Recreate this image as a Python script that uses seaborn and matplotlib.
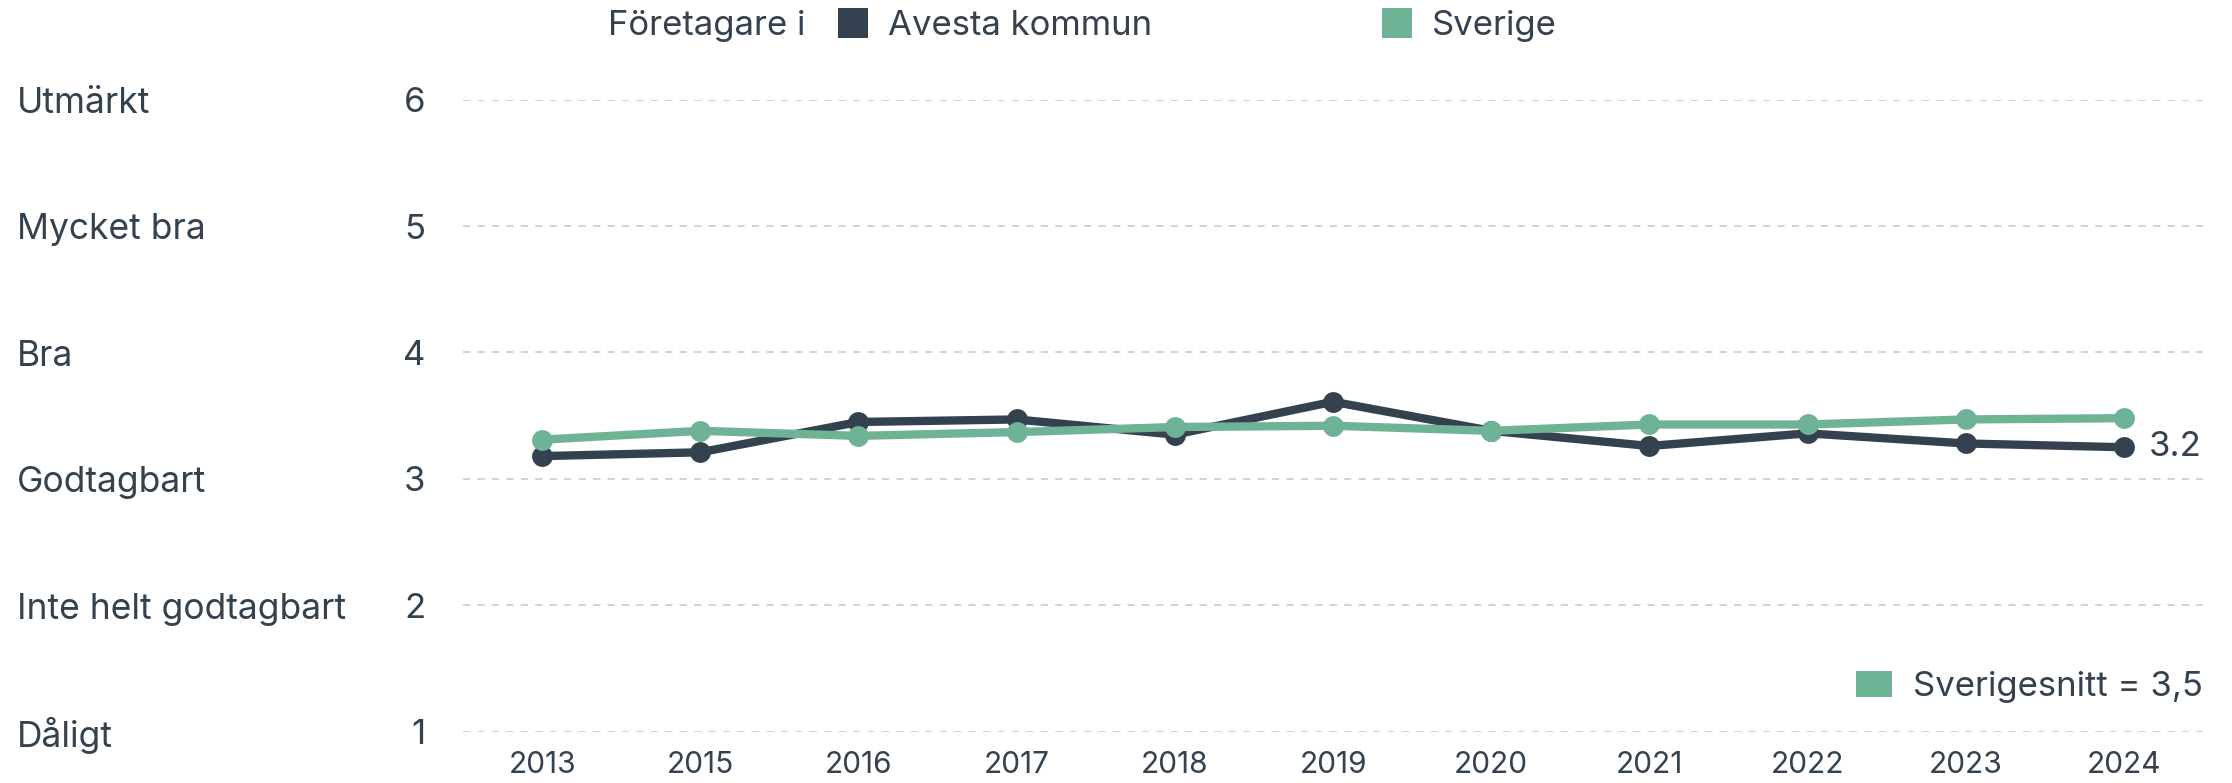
import numpy as np
import pandas as pd
import seaborn as sns
import matplotlib.pyplot as plt
from matplotlib.lines import Line2D
from matplotlib.patches import Patch
from matplotlib.transforms import blended_transform_factory

# Data
years = ['2013', '2015', '2016', '2017', '2018', '2019', '2020', '2021', '2022', '2023', '2024']
avesta = [3.18, 3.21, 3.45, 3.47, 3.35, 3.61, 3.38, 3.26, 3.36, 3.28, 3.25]
sverige = [3.31, 3.38, 3.34, 3.37, 3.41, 3.42, 3.38, 3.43, 3.43, 3.47, 3.48]
series_names = ['Avesta kommun', 'Sverige']
grade_ticks = [1, 2, 3, 4, 5, 6]
grade_labels = ['Dåligt', 'Inte helt godtagbart', 'Godtagbart', 'Bra', 'Mycket bra', 'Utmärkt']
end_label = '3.2'
avg_label = 'Sverigesnitt = 3,5'

DARK = '#34414f'
GREEN = '#6fb396'
GRID = '#cfcfcf'

df = pd.concat([
    pd.DataFrame({'År': years, 'Värde': avesta, 'Serie': series_names[0]}),
    pd.DataFrame({'År': years, 'Värde': sverige, 'Serie': series_names[1]}),
])

sns.set_style('white')
plt.rcParams['font.family'] = ['Inter', 'DejaVu Sans']
plt.rcParams['text.color'] = DARK

fig = plt.figure(figsize=(22.32, 7.83), dpi=100)
ax = fig.add_axes([463 / 2232, 1 - 731.7 / 783, (2203 - 463) / 2232, (731.7 - 99.6) / 783])

sns.lineplot(data=df, x='År', y='Värde', hue='Serie', palette=[DARK, GREEN],
             sort=False, marker='o', markersize=15, markeredgewidth=0,
             linewidth=6, legend=False, ax=ax)

ax.set_xlim(-0.5, len(years) - 0.5)
ax.set_ylim(1, 6)
ax.set_yticks(grade_ticks)
ax.set_xlabel('')
ax.set_ylabel('')
sns.despine(ax=ax, left=True, bottom=True)
ax.grid(axis='y', color=GRID, linestyle=(0, (4, 4)), linewidth=1.3)
ax.grid(axis='x', visible=False)
ax.tick_params(axis='y', length=0, pad=27, labelsize=25, labelcolor=DARK)
ax.tick_params(axis='x', length=0, pad=14, labelsize=21.5, labelcolor=DARK)

# grade names at the far left
trans = blended_transform_factory(fig.transFigure, ax.transData)
for val, lab in zip(grade_ticks, grade_labels):
    ax.text(17 / 2232, val - 0.03, lab, transform=trans, ha='left', va='center',
            fontsize=25.5, color=DARK, clip_on=False)

# value label at the end of the Avesta line
ax.annotate(end_label, xy=(len(years) - 1, avesta[-1]), xytext=(18, 0),
            textcoords='offset points', ha='left', va='center',
            fontsize=25, color=DARK, annotation_clip=False)

# top legend
fig.text(608 / 2232, 1 - 26 / 783, 'Företagare i', ha='left', va='center',
         fontsize=25, color=DARK)
handles = [Line2D([], [], linestyle='none', marker='s', markersize=22,
                  markerfacecolor=c, markeredgewidth=0) for c in (DARK, GREEN)]
fig.legend(handles, series_names, loc='center left',
           bbox_to_anchor=(836 / 2232, 1 - 26 / 783), ncol=2, frameon=False,
           handletextpad=0.5, columnspacing=6.55, handlelength=1.0,
           prop={'size': 25}, labelcolor=DARK, borderaxespad=0, borderpad=0)

# average legend bottom right
avg_handle = Patch(facecolor=GREEN, edgecolor='none')
ax.legend([avg_handle], [avg_label], loc='lower right', bbox_to_anchor=(1.0, 0.045),
          frameon=False, fontsize=25, labelcolor=DARK, handletextpad=0.6,
          borderaxespad=0, borderpad=0, handlelength=1.05, handleheight=0.75)

fig.savefig('out.png', dpi=100)
